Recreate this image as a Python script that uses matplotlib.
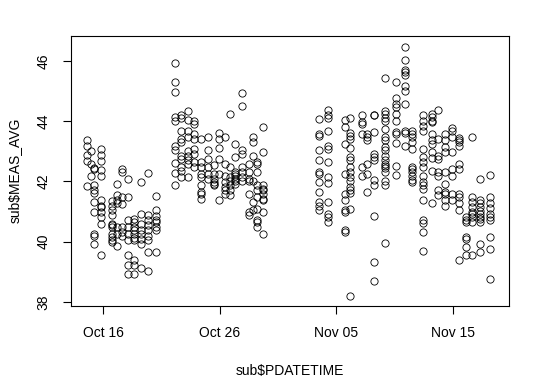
import matplotlib
matplotlib.use('Agg')
import matplotlib.pyplot as plt
import matplotlib.dates as mdates
import pandas as pd

# measurement columns: days after Oct 16 and the MEAS_AVG values read in each column
start_date = '2013-10-16'
col_days = [-1.37, -1.06, -0.77, -0.2, 0.77, 1.14, 1.57, 2.14, 2.63, 3.23, 3.83, 4.49,
            6.14, 6.63, 7.26, 7.77, 8.34, 9.0, 9.49, 9.91, 10.43, 10.86, 11.29, 11.91,
            12.49, 12.8, 13.2, 13.74,
            18.48, 19.23, 20.69, 21.2, 22.15, 22.58, 23.18, 24.13, 25.13, 25.87, 26.45,
            27.45, 28.22, 28.74, 29.31, 29.94, 30.49, 31.12, 31.6, 32.35, 33.21]
col_vals = [
    [43.38, 43.16, 42.88, 42.69, 41.86],
    [43.0, 42.59, 42.17],
    [42.44, 42.4, 41.87, 41.7, 41.62, 41.31, 40.99, 40.27, 40.18, 39.91],
    [43.08, 42.88, 42.69, 42.39, 42.17, 41.37, 41.19, 41.15, 40.98, 40.82, 40.6, 39.55],
    [41.34, 41.2, 41.04, 40.87, 40.6, 40.54, 40.49, 40.27, 40.15, 40.04, 39.99],
    [41.92, 41.56, 41.37, 41.28, 40.49, 40.27, 39.85],
    [42.42, 42.31, 41.48, 41.26, 40.49, 40.32, 40.2],
    [42.09, 41.48, 40.71, 40.49, 40.27, 40.04, 39.55, 39.24, 38.91],
    [40.76, 40.65, 40.49, 40.4, 40.27, 40.13, 40.04, 39.38, 39.22, 38.94],
    [41.98, 40.93, 40.6, 40.38, 40.27, 40.1, 39.93, 39.11],
    [42.28, 40.87, 40.71, 40.54, 40.38, 40.18, 40.04, 39.64, 39.03],
    [41.5, 41.06, 40.85, 40.71, 40.65, 40.49, 40.38, 39.64],
    [45.93, 45.31, 44.96, 44.13, 44.02, 43.19, 43.03, 42.61, 42.28, 41.89],
    [44.19, 44.11, 43.69, 43.41, 43.3, 42.83, 42.75, 42.48, 42.36, 42.14],
    [44.33, 44.04, 43.69, 43.47, 43.01, 42.83, 42.7, 42.59, 42.14],
    [44.02, 43.91, 43.58, 43.41, 43.08, 42.92, 42.64, 42.48],
    [43.41, 42.64, 42.48, 42.23, 42.14, 41.87, 41.65, 41.59, 41.43],
    [43.47, 43.03, 42.75, 42.48, 42.25, 42.09],
    [42.56, 42.25, 42.09, 41.98, 41.92, 41.87],
    [43.6, 43.41, 43.1, 42.75, 42.25, 41.39],
    [43.47, 42.59, 42.19, 41.98, 41.81, 41.7, 41.59],
    [44.24, 42.48, 42.14, 42.03, 41.87, 41.7, 41.54],
    [43.23, 42.81, 42.31, 42.25, 42.17, 42.09, 42.03, 41.92],
    [44.93, 44.52, 43.03, 42.92, 42.48, 42.31, 42.14, 42.03],
    [42.59, 42.31, 42.09, 42.03, 41.59, 40.98, 40.87],
    [43.47, 43.3, 42.86, 42.03, 41.31, 41.04],
    [42.64, 42.59, 42.31, 41.87, 41.7, 41.48, 41.09, 40.73, 40.65, 40.49],
    [43.82, 42.97, 41.87, 41.76, 41.7, 41.59, 41.43, 41.37, 40.98, 40.24],
    [44.08, 43.58, 43.5, 43.03, 42.7, 42.31, 42.25, 41.98, 41.65, 41.31, 41.2, 41.04],
    [44.38, 44.19, 44.11, 43.69, 43.16, 43.08, 42.64, 42.14, 41.95, 41.31, 40.93, 40.82, 40.65],
    [44.04, 43.82, 43.25, 42.25, 41.59, 41.37, 41.04, 40.98, 40.4, 40.32],
    [44.11, 43.6, 43.52, 43.41, 43.12, 42.81, 42.7, 42.48, 42.31, 42.14, 42.03, 41.81, 41.7,
     41.61, 41.09, 38.19],
    [44.21, 43.97, 43.91, 43.58, 42.48, 42.19],
    [43.58, 43.47, 43.36, 42.59, 42.25, 41.65],
    [44.19, 44.21, 43.64, 42.92, 42.81, 42.7, 42.06, 41.89, 40.84, 39.33, 38.68],
    [45.44, 44.35, 44.24, 44.11, 44.02, 43.75, 43.47, 43.36, 43.14, 43.03, 42.86, 42.7, 42.59,
     42.5, 42.45, 42.31, 42.03, 41.87, 39.96],
    [45.29, 44.77, 44.57, 44.46, 44.24, 44.02, 43.64, 43.58, 43.27, 42.5, 42.22],
    [46.48, 46.04, 45.7, 45.62, 45.55, 45.18, 45.0, 44.57, 43.69, 43.6, 43.19],
    [43.69, 43.58, 43.47, 43.3, 43.08, 42.48, 42.42, 42.31, 42.19, 42.06, 41.98],
    [44.21, 44.02, 43.85, 43.69, 43.08, 42.81, 42.64, 42.48, 42.19, 41.98, 41.87, 41.76, 41.37,
     40.71, 40.62, 40.32, 39.69],
    [44.24, 44.13, 44.02, 43.97, 43.58, 43.38, 43.25, 42.97, 42.78, 42.36, 41.28],
    [44.38, 43.41, 42.86, 42.75, 42.31, 42.17, 41.7, 41.54],
    [43.58, 43.38, 43.14, 42.97, 42.31, 41.91, 41.65, 41.59, 41.37, 41.2],
    [43.78, 43.69, 43.47, 42.97, 42.42, 42.19, 41.59, 41.37],
    [43.45, 43.36, 43.3, 43.16, 42.59, 42.4, 41.59, 41.48, 41.28, 41.04, 39.38],
    [40.82, 40.71, 40.65, 40.15, 40.1, 39.82, 39.55],
    [43.47, 41.48, 41.31, 41.15, 40.98, 40.93, 40.82, 40.65, 39.55],
    [42.09, 41.37, 41.28, 41.15, 41.02, 40.93, 40.82, 40.76, 40.65, 39.93, 39.66],
    [42.22, 41.48, 41.28, 41.13, 40.93, 40.82, 40.71, 40.16, 39.75, 38.77],
]
x_ticks = ['2013-10-16', '2013-10-26', '2013-11-05', '2013-11-15']
y_ticks = [38, 40, 42, 44, 46]

# flatten into one table
rows = []
for d, vals in zip(col_days, col_vals):
    for v in vals:
        rows.append((d, v))
sub = pd.DataFrame(rows, columns=['day', 'MEAS_AVG'])
sub['PDATETIME'] = pd.Timestamp(start_date) + pd.to_timedelta(sub['day'], unit='D')

plt.rcParams['font.family'] = ['Liberation Sans', 'DejaVu Sans']

fig = plt.figure(figsize=(5.4, 3.91), dpi=100)
ax = fig.add_axes([0.1315, 0.218, 0.942 - 0.1315, 0.9087 - 0.218])

# open circles like R's pch=1
ax.plot(sub['PDATETIME'], sub['MEAS_AVG'], 'o', markersize=5.2,
        markerfacecolor='none', markeredgecolor='black', markeredgewidth=0.6)

x0 = pd.Timestamp(start_date)
ax.set_xlim(x0 - pd.Timedelta(days=2.77), x0 + pd.Timedelta(days=34.77))
ax.set_ylim(37.87, 46.84)

ax.set_xticks(pd.to_datetime(x_ticks))
ax.xaxis.set_major_formatter(mdates.DateFormatter('%b %d'))
ax.set_yticks(y_ticks)
ax.set_yticklabels([str(t) for t in y_ticks], rotation=90, va='center')
ax.tick_params(direction='out', length=5.5, width=0.8, labelsize=10, pad=9)
for s in ax.spines.values():
    s.set_linewidth(0.8)

fig.text(0.5365, 0.051, 'sub$PDATETIME', ha='center', va='center', fontsize=10)
fig.text(0.028, 0.5634, 'sub$MEAS_AVG', ha='center', va='center', rotation=90, fontsize=10)

fig.savefig('out.png', dpi=100)
